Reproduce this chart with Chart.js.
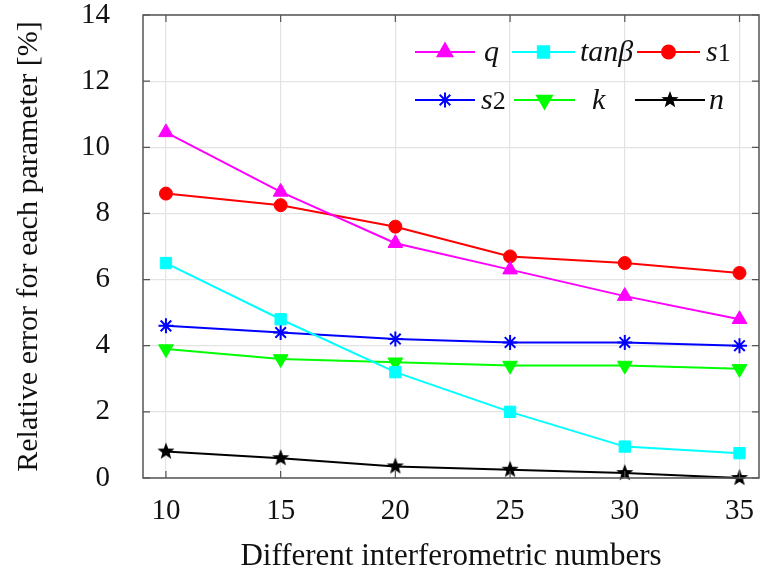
<!doctype html>
<html>
<head>
<title>Relative error</title>
<script src="https://cdn.jsdelivr.net/npm/chart.js@4.4.1/dist/chart.umd.min.js"></script>
<style>
body { margin: 0; background: #fff; }
#wrap { width: 769px; height: 577px; }
</style>
</head>
<body>
<div id="wrap"><canvas id="canvas"></canvas></div>
<script>
// data
var xValues = [10, 15, 20, 25, 30, 35];
var xTicks = [10, 15, 20, 25, 30, 35];
var yTicks = [0, 2, 4, 6, 8, 10, 12, 14];
var qErr    = [10.45, 8.65, 7.1, 6.3, 5.5, 4.8];
var tanbErr = [6.5, 4.8, 3.2, 2.0, 0.95, 0.75];
var s1Err   = [8.6, 8.25, 7.6, 6.7, 6.5, 6.2];
var s2Err   = [4.6, 4.4, 4.2, 4.1, 4.1, 4.0];
var kErr    = [3.9, 3.6, 3.5, 3.4, 3.4, 3.3];
var nErr    = [0.8, 0.6, 0.35, 0.25, 0.15, 0.0];

function pts(ys) {
	return xValues.map(function (x, i) { return { x: x, y: ys[i] }; });
}

// filled five point star for n
function starImage(r, color) {
	var c = document.createElement('canvas');
	c.width = c.height = r * 2 + 2;
	var g = c.getContext('2d');
	g.fillStyle = color;
	g.beginPath();
	for (var i = 0; i < 10; i++) {
		var a = -Math.PI / 2 + i * Math.PI / 5;
		var rr = i % 2 ? r * 0.42 : r;
		g.lineTo(r + 1 + rr * Math.cos(a), r + 1 + rr * Math.sin(a));
	}
	g.closePath();
	g.fill();
	return c;
}
var nStar = starImage(9, '#000');

var serif = "'Liberation Serif', 'DejaVu Serif', serif";

function series(label, data, color, style, radius, rot) {
	return {
		label: label,
		data: pts(data),
		borderColor: color,
		backgroundColor: color,
		borderWidth: 2,
		pointStyle: style,
		pointRadius: radius,
		pointRotation: rot || 0,
		pointBorderWidth: style === 'star' ? 2 : 1,
		clip: false,
		tension: 0
	};
}

var datasets = [
	series('q', qErr, '#ff00ff', 'triangle', 8.5),
	series('tanβ', tanbErr, '#00ffff', 'rect', 8),
	series('s1', s1Err, '#ff0000', 'circle', 6.5),
	series('s2', s2Err, '#0000ff', 'star', 7.5),
	series('k', kErr, '#00ff00', 'triangle', 8.5, 180),
	series('n', nErr, '#000000', nStar, 9)
];

// frame, inner ticks and the legend inside the plot
var framePlugin = {
	id: 'frame',
	afterDraw: function (chart) {
		var ctx = chart.ctx, a = chart.chartArea;
		var xs = chart.scales.x, ys = chart.scales.y;
		ctx.save();
		ctx.strokeStyle = '#555';
		ctx.lineWidth = 1.5;
		ctx.strokeRect(a.left, a.top, a.right - a.left, a.bottom - a.top);
		ctx.lineWidth = 1.2;
		ctx.beginPath();
		xTicks.forEach(function (v) {
			var px = xs.getPixelForValue(v);
			ctx.moveTo(px, a.bottom); ctx.lineTo(px, a.bottom - 7);
			ctx.moveTo(px, a.top); ctx.lineTo(px, a.top + 7);
		});
		yTicks.forEach(function (v) {
			var py = ys.getPixelForValue(v);
			ctx.moveTo(a.left, py); ctx.lineTo(a.left + 7, py);
			ctx.moveTo(a.right, py); ctx.lineTo(a.right - 7, py);
		});
		ctx.stroke();

		// legend, 2 rows x 3 columns
		var cells = [
			{ ds: 0, x: 415, y: 52, w: 60, text: [['q', 'italic']], tx: 484 },
			{ ds: 1, x: 512, y: 52, w: 63, text: [['tanβ', 'italic']], tx: 580 },
			{ ds: 2, x: 637, y: 52, w: 63, text: [['s', 'italic'], ['1', 'normal']], tx: 706 },
			{ ds: 3, x: 415, y: 100, w: 60, text: [['s', 'italic'], ['2', 'normal']], tx: 481 },
			{ ds: 4, x: 514, y: 100, w: 61, text: [['k', 'italic']], tx: 592 },
			{ ds: 5, x: 635, y: 100, w: 70, text: [['n', 'italic']], tx: 709 }
		];
		cells.forEach(function (c) {
			var d = chart.data.datasets[c.ds];
			ctx.strokeStyle = d.borderColor;
			ctx.lineWidth = 2;
			ctx.beginPath();
			ctx.moveTo(c.x, c.y); ctx.lineTo(c.x + c.w, c.y);
			ctx.stroke();
			Chart.helpers.drawPoint(ctx, {
				pointStyle: d.pointStyle,
				radius: d.pointRadius,
				rotation: d.pointRotation,
				borderWidth: d.pointBorderWidth
			}, c.x + c.w / 2, c.y);
			if (d.pointStyle !== 'star') {
				ctx.fillStyle = d.backgroundColor;
				ctx.fill();
			}
			ctx.fillStyle = '#111';
			ctx.textBaseline = 'alphabetic';
			var tx = c.tx;
			c.text.forEach(function (t) {
				ctx.font = t[1] === 'italic' ? 'italic 30px ' + serif : '26px ' + serif;
				ctx.fillText(t[0], tx, c.y + 9);
				tx += ctx.measureText(t[0]).width;
			});
		});
		ctx.restore();
	}
};

var ctx = document.getElementById('canvas').getContext('2d');
window.myLine = new Chart(ctx, {
	type: 'line',
	data: { datasets: datasets },
	options: {
		responsive: true,
		maintainAspectRatio: false,
		animation: false,
		layout: { padding: { top: 15, right: 2, left: 0, bottom: 0 } },
		plugins: { legend: { display: false }, tooltip: { enabled: false } },
		scales: {
			x: {
				type: 'linear',
				min: 9,
				max: 35.85,
				afterBuildTicks: function (s) { s.ticks = xTicks.map(function (v) { return { value: v }; }); },
				afterFit: function (s) { s.height = 99; s.paddingLeft = 0; s.paddingRight = 0; },
				grid: { color: '#e3e3e3', lineWidth: 1.2, drawTicks: false },
				border: { display: false },
				ticks: { padding: 16, color: '#111', font: { family: serif, size: 29 } },
				title: { display: true, text: 'Different interferometric numbers', color: '#111',
					font: { family: serif, size: 31 }, padding: { top: 4, bottom: 2 } }
			},
			y: {
				min: 0,
				max: 14,
				afterBuildTicks: function (s) { s.ticks = yTicks.map(function (v) { return { value: v }; }); },
				afterFit: function (s) { s.width = 143; s.paddingTop = 0; s.paddingBottom = 0; },
				grid: { color: '#e3e3e3', lineWidth: 1.2, drawTicks: false },
				border: { display: false },
				ticks: { padding: 33, color: '#111', font: { family: serif, size: 29 } },
				title: { display: true, text: 'Relative error for each parameter [%]', color: '#111',
					font: { family: serif, size: 30 }, padding: { top: 11, bottom: 4 } }
			}
		}
	},
	plugins: [framePlugin]
});
</script>
</body>
</html>
